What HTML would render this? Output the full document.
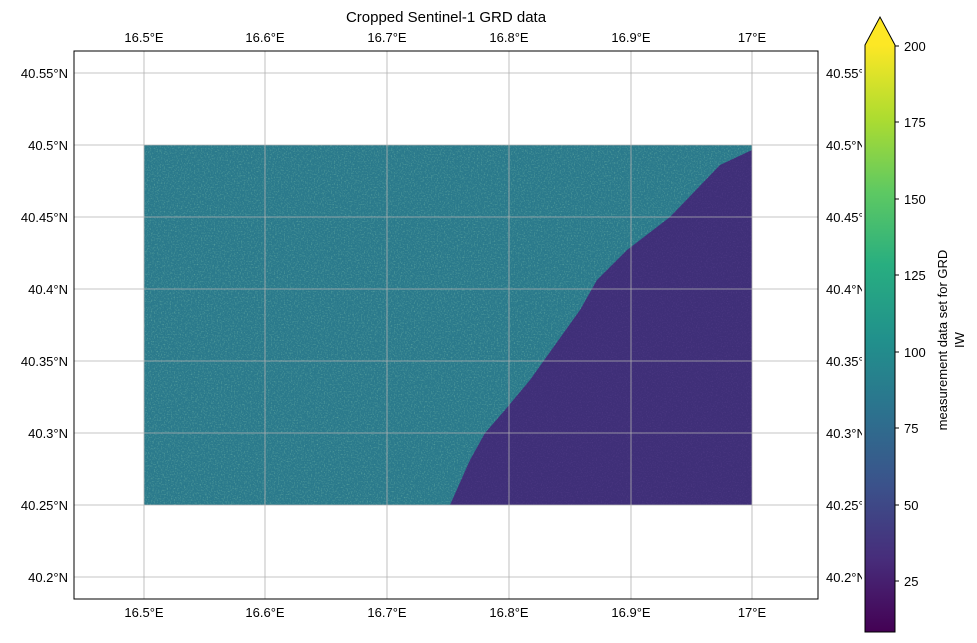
<!DOCTYPE html>
<html><head><style>
body{margin:0;background:#fff;}
svg{display:block;font-family:"Liberation Sans","DejaVu Sans",sans-serif;}
</style></head><body>
<svg width="977" height="643" viewBox="0 0 977 643" xmlns="http://www.w3.org/2000/svg">
<defs>
<linearGradient id="vir" x1="0" y1="1" x2="0" y2="0">
<stop offset="0" stop-color="#440154"/>
<stop offset="0.125" stop-color="#472d7b"/>
<stop offset="0.25" stop-color="#3b528b"/>
<stop offset="0.375" stop-color="#2c728e"/>
<stop offset="0.5" stop-color="#21918c"/>
<stop offset="0.625" stop-color="#28ae80"/>
<stop offset="0.75" stop-color="#5ec962"/>
<stop offset="0.875" stop-color="#addc30"/>
<stop offset="1" stop-color="#fde725"/>
</linearGradient>
<filter id="n" x="0" y="0" width="100%" height="100%">
<feTurbulence type="fractalNoise" baseFrequency="0.7" numOctaves="2" seed="3"/>
<feColorMatrix type="matrix" values="0 0 0 0 0.4  0 0 0 0 0.8  0 0 0 0 0.5  1.6 0 0 0 -0.8"/>
</filter>
<filter id="n2" x="0" y="0" width="100%" height="100%">
<feTurbulence type="fractalNoise" baseFrequency="0.8" numOctaves="1" seed="7"/>
<feColorMatrix type="matrix" values="0 0 0 0 0.2  0 0 0 0 0.1  0 0 0 0 0.4  1.2 0 0 0 -0.6"/>
</filter>
<clipPath id="land"><polygon points="144,145 752,145 752,150 720,165 670,217 627,250 597,280 580,310 555,345 530,380 505,410 485,433 470,460 450,505 144,505"/></clipPath>
</defs>
<rect x="144" y="145" width="608" height="360" fill="#3f2f78"/>
<rect x="144" y="145" width="608" height="360" filter="url(#n2)" opacity="0.6"/>
<polygon points="144,145 752,145 752,150 720,165 670,217 627,250 597,280 580,310 555,345 530,380 505,410 485,433 470,460 450,505 144,505" fill="#2b7a8c"/>
<g clip-path="url(#land)"><rect x="144" y="145" width="608" height="360" filter="url(#n)" opacity="0.55"/></g>
<g stroke="#b0b0b0" stroke-width="0.8">
<line x1="144" y1="51" x2="144" y2="599"/><line x1="265" y1="51" x2="265" y2="599"/><line x1="387" y1="51" x2="387" y2="599"/><line x1="509" y1="51" x2="509" y2="599"/><line x1="631" y1="51" x2="631" y2="599"/><line x1="752" y1="51" x2="752" y2="599"/>
<line x1="74" y1="73" x2="818" y2="73"/><line x1="74" y1="145" x2="818" y2="145"/><line x1="74" y1="217" x2="818" y2="217"/><line x1="74" y1="289" x2="818" y2="289"/><line x1="74" y1="361" x2="818" y2="361"/><line x1="74" y1="433" x2="818" y2="433"/><line x1="74" y1="505" x2="818" y2="505"/><line x1="74" y1="577" x2="818" y2="577"/>
</g>
<rect x="74" y="51" width="744" height="548" fill="none" stroke="#000" stroke-width="1"/>
<text x="446" y="22" font-size="15" text-anchor="middle">Cropped Sentinel-1 GRD data</text>
<g font-size="13" text-anchor="middle">
<text x="144" y="42">16.5°E</text><text x="265" y="42">16.6°E</text><text x="387" y="42">16.7°E</text><text x="509" y="42">16.8°E</text><text x="631" y="42">16.9°E</text><text x="752" y="42">17°E</text>
<text x="144" y="617">16.5°E</text><text x="265" y="617">16.6°E</text><text x="387" y="617">16.7°E</text><text x="509" y="617">16.8°E</text><text x="631" y="617">16.9°E</text><text x="752" y="617">17°E</text>
</g>
<g font-size="13" text-anchor="end">
<text x="68" y="78">40.55°N</text><text x="68" y="150">40.5°N</text><text x="68" y="222">40.45°N</text><text x="68" y="294">40.4°N</text><text x="68" y="366">40.35°N</text><text x="68" y="438">40.3°N</text><text x="68" y="510">40.25°N</text><text x="68" y="582">40.2°N</text>
</g>
<g font-size="13">
<text x="826" y="78">40.55°N</text><text x="826" y="150">40.5°N</text><text x="826" y="222">40.45°N</text><text x="826" y="294">40.4°N</text><text x="826" y="366">40.35°N</text><text x="826" y="438">40.3°N</text><text x="826" y="510">40.25°N</text><text x="826" y="582">40.2°N</text>
</g>
<rect x="862" y="10" width="115" height="633" fill="#fff"/>
<rect x="865" y="45" width="30" height="587" fill="url(#vir)"/>
<polygon points="865,45 880,17 895,45" fill="#fde725"/>
<polygon points="865,632 865,45 880,17 895,45 895,632" fill="none" stroke="#000" stroke-width="1"/>
<g stroke="#000"><line x1="895" y1="46" x2="899" y2="46"/><line x1="895" y1="122" x2="899" y2="122"/><line x1="895" y1="199" x2="899" y2="199"/><line x1="895" y1="275" x2="899" y2="275"/><line x1="895" y1="352" x2="899" y2="352"/><line x1="895" y1="428" x2="899" y2="428"/><line x1="895" y1="505" x2="899" y2="505"/><line x1="895" y1="581" x2="899" y2="581"/></g>
<g font-size="13"><text x="904" y="51">200</text><text x="904" y="127">175</text><text x="904" y="204">150</text><text x="904" y="280">125</text><text x="904" y="357">100</text><text x="904" y="433">75</text><text x="904" y="510">50</text><text x="904" y="586">25</text></g>
<text transform="translate(947,340) rotate(-90)" font-size="13" text-anchor="middle">measurement data set for GRD</text>
<text transform="translate(964,340) rotate(-90)" font-size="13" text-anchor="middle">IW</text>
</svg>
</body></html>
